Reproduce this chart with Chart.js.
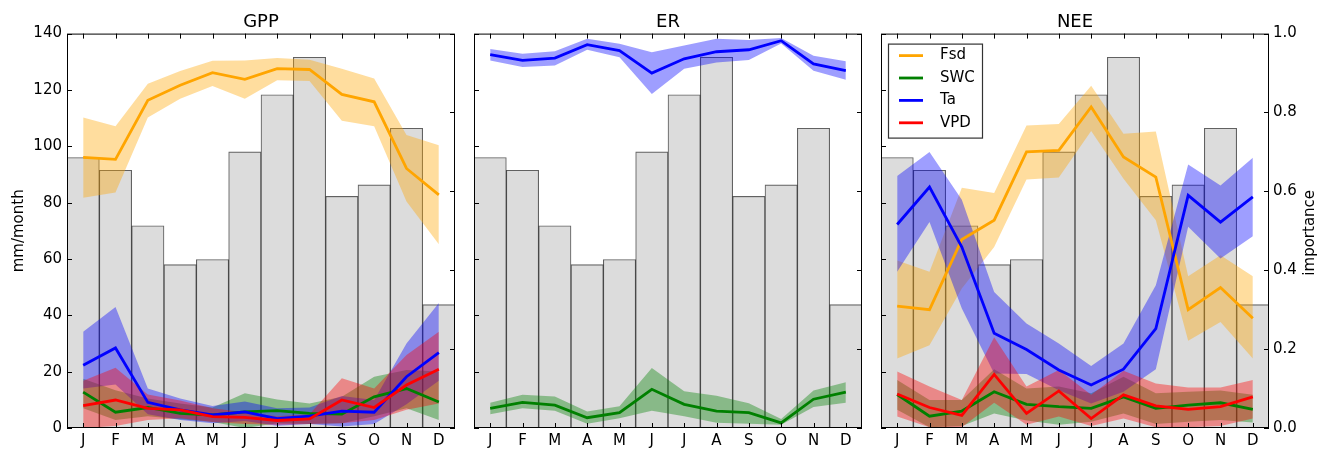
<!DOCTYPE html>
<html>
<head>
<meta charset="utf-8">
<script src="https://cdn.jsdelivr.net/npm/chart.js@4.4.1/dist/chart.umd.min.js"></script>
<style>
  html, body { margin: 0; padding: 0; background: #fff; width: 1320px; height: 449px; overflow: hidden; }
  canvas { position: absolute; top: 0; }
</style>
</head>
<body>
<canvas id="gpp" width="462" height="449" style="left:0px"></canvas>
<canvas id="er" width="406" height="449" style="left:462px"></canvas>
<canvas id="nee" width="452" height="449" style="left:868px"></canvas>
<script>
// Month labels and monthly rainfall (mm/month)
const months = ['J', 'F', 'M', 'A', 'M', 'J', 'J', 'A', 'S', 'O', 'N', 'D'];
const rainfall = [96, 91.5, 71.8, 58, 59.8, 98, 118.3, 131.6, 82.2, 86.3, 106.4, 43.8];

// Axis tick values
const mmTicks = [0, 20, 40, 60, 80, 100, 120, 140];
const importanceTicks = [0, 0.2, 0.4, 0.6, 0.8, 1.0];

// Driver names shown in the legend
const drivers = ['Fsd', 'SWC', 'Ta', 'VPD'];

// GPP: driver importance (mean, upper, lower)
const gppFsd   = [0.686, 0.681, 0.831, 0.869, 0.901, 0.884, 0.911, 0.909, 0.846, 0.827, 0.658, 0.591];
const gppFsdHi = [0.787, 0.765, 0.873, 0.905, 0.931, 0.932, 0.938, 0.934, 0.911, 0.886, 0.743, 0.717];
const gppFsdLo = [0.584, 0.597, 0.787, 0.835, 0.867, 0.835, 0.882, 0.880, 0.779, 0.765, 0.574, 0.466];
const gppSwc   = [0.091, 0.040, 0.052, 0.037, 0.033, 0.041, 0.044, 0.037, 0.035, 0.079, 0.100, 0.066];
const gppSwcHi = [0.125, 0.096, 0.075, 0.062, 0.052, 0.088, 0.072, 0.062, 0.079, 0.130, 0.147, 0.143];
const gppSwcLo = [0.050, 0.020, 0.030, 0.022, 0.015, 0.000, 0.012, 0.010, 0.012, 0.030, 0.050, 0.020];
const gppTa    = [0.159, 0.203, 0.065, 0.046, 0.033, 0.041, 0.024, 0.030, 0.043, 0.040, 0.130, 0.191];
const gppTaHi  = [0.244, 0.307, 0.100, 0.075, 0.056, 0.067, 0.050, 0.052, 0.081, 0.071, 0.214, 0.317];
const gppTaLo  = [0.100, 0.110, 0.035, 0.020, 0.012, 0.018, 0.006, 0.010, 0.004, 0.010, 0.060, 0.120];
const gppVpd   = [0.057, 0.071, 0.050, 0.046, 0.029, 0.027, 0.019, 0.023, 0.071, 0.052, 0.109, 0.149];
const gppVpdHi = [0.120, 0.153, 0.085, 0.070, 0.050, 0.040, 0.030, 0.035, 0.126, 0.100, 0.185, 0.244];
const gppVpdLo = [0.000, 0.005, 0.020, 0.025, 0.015, 0.010, 0.008, 0.010, 0.012, 0.020, 0.046, 0.062];

// ER: driver importance (mean, upper, lower)
const erTa     = [0.947, 0.932, 0.938, 0.972, 0.957, 0.900, 0.936, 0.954, 0.959, 0.982, 0.923, 0.906];
const erTaHi   = [0.961, 0.949, 0.955, 0.987, 0.974, 0.953, 0.970, 0.987, 0.984, 0.989, 0.944, 0.930];
const erTaLo   = [0.932, 0.915, 0.919, 0.959, 0.940, 0.847, 0.911, 0.927, 0.933, 0.975, 0.906, 0.883];
const erSwc    = [0.050, 0.065, 0.058, 0.026, 0.039, 0.098, 0.060, 0.043, 0.039, 0.013, 0.073, 0.091];
const erSwcHi  = [0.064, 0.084, 0.080, 0.042, 0.055, 0.152, 0.093, 0.082, 0.063, 0.023, 0.095, 0.116];
const erSwcLo  = [0.035, 0.050, 0.044, 0.011, 0.025, 0.044, 0.030, 0.013, 0.011, 0.008, 0.053, 0.064];

// NEE: driver importance (mean, upper, lower)
const neeFsd   = [0.309, 0.300, 0.478, 0.527, 0.700, 0.704, 0.814, 0.687, 0.636, 0.300, 0.356, 0.278];
const neeFsdHi = [0.425, 0.396, 0.609, 0.596, 0.767, 0.771, 0.868, 0.746, 0.752, 0.385, 0.438, 0.385];
const neeFsdLo = [0.176, 0.210, 0.354, 0.459, 0.630, 0.635, 0.753, 0.632, 0.527, 0.221, 0.269, 0.176];
const neeSwc   = [0.085, 0.030, 0.043, 0.092, 0.060, 0.054, 0.050, 0.079, 0.050, 0.058, 0.064, 0.047];
const neeSwcHi = [0.122, 0.071, 0.071, 0.149, 0.100, 0.105, 0.088, 0.130, 0.088, 0.092, 0.095, 0.084];
const neeSwcLo = [0.046, 0.002, 0.005, 0.037, 0.019, 0.008, 0.016, 0.037, 0.010, 0.016, 0.020, 0.014];
const neeTa    = [0.516, 0.611, 0.459, 0.240, 0.199, 0.147, 0.109, 0.149, 0.252, 0.590, 0.522, 0.586];
const neeTaHi  = [0.639, 0.700, 0.579, 0.345, 0.265, 0.214, 0.157, 0.214, 0.362, 0.668, 0.615, 0.685];
const neeTaLo  = [0.396, 0.522, 0.303, 0.138, 0.137, 0.096, 0.062, 0.092, 0.149, 0.510, 0.430, 0.486];
const neeVpd   = [0.086, 0.052, 0.032, 0.136, 0.037, 0.094, 0.024, 0.084, 0.056, 0.047, 0.054, 0.079];
const neeVpdHi = [0.143, 0.105, 0.071, 0.230, 0.105, 0.147, 0.084, 0.145, 0.113, 0.103, 0.103, 0.122];
const neeVpdLo = [0.029, 0.002, 0.002, 0.064, 0.008, 0.029, 0.005, 0.024, 0.002, 0.002, 0.005, 0.024];

const COLORS = { Fsd: [255, 165, 0], SWC: [0, 128, 0], Ta: [0, 0, 255], VPD: [255, 0, 0] };
const BAND_ALPHA = 0.38;
const FONT = "'DejaVu Sans', 'Liberation Sans', sans-serif";

Chart.defaults.font.family = FONT;
Chart.defaults.font.size = 15;
Chart.defaults.color = '#000';

const rgb = (c, a) => `rgba(${c[0]},${c[1]},${c[2]},${a})`;

// Band (upper filled down to lower) and the mean line; all bands sit under all lines
function driverSets(name, mean, hi, lo, rank) {
  const c = COLORS[name];
  return [
    { type: 'line', label: name + ' upper', data: hi, yAxisID: 'y1', fill: '+1',
      backgroundColor: rgb(c, BAND_ALPHA), borderColor: 'transparent', borderWidth: 0,
      pointRadius: 0, order: 50 - rank },
    { type: 'line', label: name + ' lower', data: lo, yAxisID: 'y1', fill: false,
      borderColor: 'transparent', borderWidth: 0, pointRadius: 0, order: 50 - rank },
    { type: 'line', label: name, data: mean, yAxisID: 'y1', fill: false,
      borderColor: rgb(c, 1), borderWidth: 2.8, pointRadius: 0, order: 10 - rank }
  ];
}

function rainBars() {
  return { type: 'bar', label: 'rainfall', data: rainfall, yAxisID: 'y',
    backgroundColor: '#dcdcdc', borderColor: 'rgba(0,0,0,0.62)', borderWidth: 1.1,
    borderSkipped: false, barPercentage: 1, categoryPercentage: 1, order: 100 };
}

// Axes frame and inward tick marks on all four sides
const framePlugin = {
  id: 'frame',
  afterDatasetsDraw(chart) {
    const { ctx, chartArea: a, scales } = chart;
    const len = 5;
    ctx.save();
    ctx.strokeStyle = '#000';
    ctx.lineWidth = 1;
    ctx.beginPath();
    months.forEach((m, i) => {
      const px = Math.round(scales.x.getPixelForValue(i)) + 0.5;
      ctx.moveTo(px, a.bottom); ctx.lineTo(px, a.bottom - len);
      ctx.moveTo(px, a.top); ctx.lineTo(px, a.top + len);
    });
    mmTicks.forEach(v => {
      const py = Math.round(scales.y.getPixelForValue(v)) + 0.5;
      ctx.moveTo(a.left, py); ctx.lineTo(a.left + len, py);
    });
    importanceTicks.forEach(v => {
      const py = Math.round(scales.y1.getPixelForValue(v)) + 0.5;
      ctx.moveTo(a.right, py); ctx.lineTo(a.right - len, py);
    });
    ctx.stroke();
    ctx.strokeRect(a.left + 0.5, a.top + 0.5, a.width - 1, a.height - 1);
    ctx.restore();
  }
};

// Legend box inside the plot area and the rotated right-axis title
const neeExtras = {
  id: 'neeExtras',
  afterDraw(chart) {
    const { ctx, chartArea: a } = chart;
    ctx.save();
    const bx = a.left + 7, by = a.top + 10, bw = 94, bh = 94;
    ctx.fillStyle = '#fff';
    ctx.fillRect(bx, by, bw, bh);
    ctx.strokeStyle = '#333';
    ctx.lineWidth = 1.2;
    ctx.strokeRect(bx + 0.5, by + 0.5, bw, bh);
    ctx.font = '15px ' + FONT;
    ctx.textBaseline = 'middle';
    ctx.textAlign = 'left';
    drivers.forEach((d, i) => {
      const y = by + 12 + i * 22.4;
      ctx.strokeStyle = rgb(COLORS[d], 1);
      ctx.lineWidth = 2.8;
      ctx.beginPath();
      ctx.moveTo(bx + 11, y); ctx.lineTo(bx + 35, y);
      ctx.stroke();
      ctx.fillStyle = '#000';
      ctx.fillText(d, bx + 52, y);
    });
    ctx.translate(a.right + 41, (a.top + a.bottom) / 2 + 2);
    ctx.rotate(-Math.PI / 2);
    ctx.textAlign = 'center';
    ctx.fillText('importance', 0, 0);
    ctx.restore();
  }
};

function makeChart(id, title, datasets, opts) {
  return new Chart(document.getElementById(id), {
    data: { labels: months, datasets },
    options: {
      responsive: false,
      animation: false,
      events: [],
      layout: { padding: { left: opts.padLeft, right: opts.padRight, top: 0, bottom: 0 } },
      plugins: {
        legend: { display: false },
        tooltip: { enabled: false },
        title: { display: true, text: title, fullSize: false, color: '#000',
          font: { size: 18, weight: 'normal', family: FONT }, padding: { top: 12, bottom: 0 } }
      },
      scales: {
        x: {
          type: 'category', offset: true,
          grid: { display: false, drawTicks: false },
          border: { display: false },
          ticks: { padding: 4, font: { size: 15 }, maxRotation: 0, autoSkip: false },
          afterFit: s => { s.height = 21; }
        },
        y: {
          type: 'linear', position: 'left', min: 0, max: 140,
          display: opts.showLeft,
          grid: { display: false, drawTicks: false },
          border: { display: false },
          ticks: { stepSize: 20, padding: 5, font: { size: 15 } },
          title: { display: opts.showLeft, text: 'mm/month', font: { size: 15 }, padding: { top: 10, bottom: 0 } },
          afterFit: s => { s.width = opts.showLeft ? 67 : 0; }
        },
        y1: {
          type: 'linear', position: 'right', min: 0, max: 1,
          display: opts.showRight,
          grid: { display: false, drawTicks: false },
          border: { display: false },
          ticks: { stepSize: 0.2, padding: 4, font: { size: 15 }, callback: v => v.toFixed(1) },
          afterFit: s => { s.width = opts.showRight ? 51 : 0; }
        }
      }
    },
    plugins: opts.extra ? [framePlugin, opts.extra] : [framePlugin]
  });
}

makeChart('gpp', 'GPP', [
  rainBars(),
  ...driverSets('Fsd', gppFsd, gppFsdHi, gppFsdLo, 0),
  ...driverSets('SWC', gppSwc, gppSwcHi, gppSwcLo, 1),
  ...driverSets('Ta', gppTa, gppTaHi, gppTaLo, 2),
  ...driverSets('VPD', gppVpd, gppVpdHi, gppVpdLo, 3)
], { padLeft: 0, padRight: 7, showLeft: true, showRight: false });

makeChart('er', 'ER', [
  rainBars(),
  ...driverSets('SWC', erSwc, erSwcHi, erSwcLo, 1),
  ...driverSets('Ta', erTa, erTaHi, erTaLo, 2)
], { padLeft: 12, padRight: 6, showLeft: false, showRight: false });

makeChart('nee', 'NEE', [
  rainBars(),
  ...driverSets('Fsd', neeFsd, neeFsdHi, neeFsdLo, 0),
  ...driverSets('SWC', neeSwc, neeSwcHi, neeSwcLo, 1),
  ...driverSets('Ta', neeTa, neeTaHi, neeTaLo, 2),
  ...driverSets('VPD', neeVpd, neeVpdHi, neeVpdLo, 3)
], { padLeft: 13, padRight: 0, showLeft: false, showRight: true, extra: neeExtras });
</script>
</body>
</html>
